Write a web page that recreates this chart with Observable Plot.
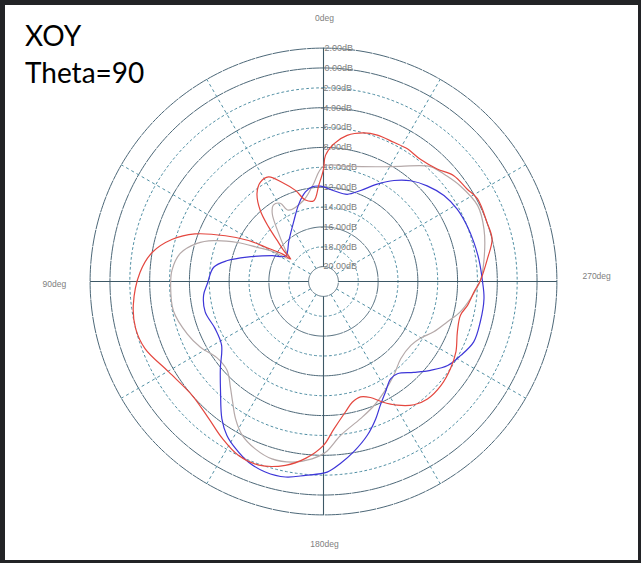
<!DOCTYPE html>
<html><head><meta charset="utf-8">
<script src="https://cdn.jsdelivr.net/npm/d3@7"></script>
<script src="https://cdn.jsdelivr.net/npm/@observablehq/plot@0.6"></script>
<style>
html,body{margin:0;padding:0;background:#222326;width:641px;height:563px;overflow:hidden;}
#panel{position:absolute;left:5px;top:5px;width:633px;height:555px;background:#fff;overflow:hidden;}
#chart{position:absolute;left:0;top:0;}
#title{position:absolute;left:20px;top:12px;font-family:Lato,"Open Sans",sans-serif;font-size:28px;line-height:37px;color:#000;}
</style></head>
<body>
<div id="panel"><div id="chart"></div><div id="title">XOY<br>Theta=90</div></div>
<script>
// ---- data ----
const dbTicks = [2, 0, -2, -4, -6, -8, -10, -12, -14, -16, -18, -20];
const solidRings = [2, 0, -4, -8, -12, -16, -20];
const dottedRings = [-2, -6, -10, -14, -18];
const axisAngles = [0, 90, 180, 270];
const dottedAngles = [30, 60, 120, 150, 210, 240, 300, 330];
const angleLabels = ["0deg", "90deg", "180deg", "270deg"];

const redAngle = [0,2.8,6.8,12.5,17.1,22.6,27.7,32.4,37.1,41.6,45.2,48.5,52,55.5,56.2,59.4,61.3,65,69.7,74.4,80.4,87.2,97.1,104,110.6,120.3,130.9,140.1,147.2,154,160.6,168.3,174.2,180,184,189.6,193.4,197.8,202,206,210.8,216.3,221.5,228.4,235.6,242,249.4,256.2,260.6,266.1,270.4,277.8,284.1,289.8,298.2,302.7,309.1,314.7,321.6,327.7,333.2,339.8,344.8,350.8,355.7,359.1];
const redDb = [-10.2,-11.8,-13.3,-13.1,-11.9,-10.7,-9.6,-9.65,-10.4,-11.9,-13.7,-15.3,-16.4,-17.5,-16.5,-14.7,-12.9,-10.6,-7.7,-5.7,-4.0,-3.0,-2.2,-2.0,-2.3,-3.45,-4.0,-3.5,-2.7,-2.0,-1.9,-2.6,-3.6,-5.0,-6.6,-8.2,-9.0,-9.3,-8.9,-8.0,-7.0,-6.1,-5.7,-5.7,-6.0,-6.4,-7.1,-7.3,-6.8,-6.3,-5.7,-4.85,-4.0,-4.0,-3.9,-4.3,-4.6,-5.4,-5.8,-5.7,-5.8,-5.8,-6.0,-6.6,-7.6,-8.8];

const grayAngle = [0,6.5,13.9,26.2,28.9,33.3,36.9,42.1,50.8,55.9,59.5,62.7,65.6,69.6,73.2,78.9,85.8,92.1,101,111,118.1,125.5,132.7,138.7,142.6,147.3,152.1,157.8,163.8,170.2,176.3,180.7,186.3,195.1,202.1,208.7,216.9,225,233.8,239.6,245.5,251.9,257.5,263.4,270.4,279.1,288.1,296.2,304.9,311,317.1,326.2,333.6,346.8];
const grayDb = [-9.9,-11.8,-13.1,-13.5,-12.5,-12.3,-12.9,-14.6,-16.6,-17.4,-15.5,-14.0,-12.0,-9.7,-8.2,-6.8,-6.2,-6.1,-6.1,-6.8,-7.45,-8.3,-8.3,-7.3,-6.4,-5.1,-4.0,-3.3,-2.9,-3.05,-3.6,-4.3,-5.9,-7.2,-8.0,-8.8,-9.7,-10.5,-10.6,-10.2,-9.3,-8.4,-7.4,-6.6,-5.7,-5.1,-4.5,-4.2,-4.7,-5.2,-5.7,-7.55,-8.6,-9.6];

const blueAngle = [1.8,6.8,11.4,17.6,26,40.2,55.9,63.4,72.3,77.7,82.6,91.1,96.5,104.4,113.5,122,130.2,137,143.5,147.9,152.2,157.5,163,169,174.7,181.1,185.3,190.1,195.9,200.8,204.7,209.3,214.6,218.7,224.8,230.3,235.9,241.7,248.1,255.6,263.9,270.3,278.2,284.5,291.2,298.4,305.5,312.7,319.2,325.1,331.1,337.8,344.8,353.5];
const blueDb = [-11.9,-11.9,-12.3,-13.3,-14.7,-16.1,-16.9,-15.7,-13.4,-11.6,-10.35,-9.8,-9.35,-9.2,-9.6,-9.4,-7.9,-6.3,-4.3,-3.2,-2.5,-1.8,-1.45,-1.45,-1.9,-2.3,-3.1,-4.1,-5.4,-6.7,-7.8,-8.75,-9.6,-9.6,-8.6,-7.5,-6.4,-5.8,-5.2,-5.2,-5.25,-5.5,-5.7,-5.85,-6.0,-6.2,-6.6,-7.3,-8.1,-9.1,-10.3,-11.6,-12.4,-12.3];

// ---- geometry helpers ----
const DBMIN = -20, DBMAX = 2;
const OFFSET = 21.5;                 // inner ring (-20 dB) sits a little off the centre
const rho = db => db + OFFSET;
const rad = a => a * Math.PI / 180;
const px = (a, db) => -rho(db) * Math.sin(rad(a));   // 0deg top, 90deg left
const py = (a, db) => rho(db) * Math.cos(rad(a));
const RMAX = rho(DBMAX);

const W = 633, H = 555, CX = 318, CY = 276, RPX = 233.4;

function ringRows(list) {
  const rows = [];
  for (const db of list) for (let a = 0; a <= 360; a += 1) rows.push({db, a});
  return rows;
}
function seriesRows(angles, dbs) { return angles.map((a, i) => ({a, db: dbs[i]})); }

const red = seriesRows(redAngle, redDb);
const gray = seriesRows(grayAngle, grayDb);
const blue = seriesRows(blueAngle, blueDb);

const curveOpts = (color, w) => ({
  x: d => px(d.a, d.db), y: d => py(d.a, d.db),
  stroke: color, strokeWidth: w, curve: "catmull-rom-closed"
});

const labelRows = angleLabels.map((t, i) => ({t, a: axisAngles[i]}));

const chart = Plot.plot({
  width: W, height: H, margin: 0,
  style: {background: "transparent"},
  x: {domain: [-RMAX, RMAX], range: [CX - RPX, CX + RPX], axis: null},
  y: {domain: [-RMAX, RMAX], range: [CY + RPX, CY - RPX], axis: null},
  marks: [
    // dotted rings
    Plot.line(ringRows(dottedRings), {x: d => px(d.a, d.db), y: d => py(d.a, d.db), z: "db",
      stroke: "#4f8ea3", strokeWidth: 1, strokeDasharray: "2,3"}),
    // solid rings
    Plot.line(ringRows(solidRings), {x: d => px(d.a, d.db), y: d => py(d.a, d.db), z: "db",
      stroke: "#4d6878", strokeWidth: 1, strokeDasharray: "16,1.5"}),
    // dotted spokes
    Plot.link(dottedAngles, {x1: a => px(a, DBMIN), y1: a => py(a, DBMIN), x2: a => px(a, DBMAX), y2: a => py(a, DBMAX),
      stroke: "#4f8ea3", strokeWidth: 1, strokeDasharray: "3,3"}),
    // main axes
    Plot.link(axisAngles, {x1: a => px(a, DBMIN), y1: a => py(a, DBMIN), x2: a => px(a, DBMAX), y2: a => py(a, DBMAX),
      stroke: "#3d5866", strokeWidth: 1.1}),
    // dB labels
    Plot.text(dbTicks.filter(v => v >= 0), {x: () => 0, y: v => rho(v), text: v => v.toFixed(2) + "dB",
      textAnchor: "start", dx: 1, fill: "#808080", fontSize: 9, fontFamily: "Liberation Sans, Arial, sans-serif"}),
    Plot.text(dbTicks.filter(v => v < 0), {x: () => 0, y: v => rho(v), text: v => v.toFixed(2) + "dB",
      textAnchor: "start", dx: -3, fill: "#808080", fontSize: 9, fontFamily: "Liberation Sans, Arial, sans-serif"}),
    // angle labels
    Plot.text(labelRows.filter(d => d.a === 0 || d.a === 180), {x: d => px(d.a, DBMIN) * 0 , y: d => (d.a === 0 ? 1 : -1) * 26.5, text: "t",
      dx: 1, fill: "#808080", fontSize: 8.5, fontFamily: "Liberation Sans, Arial, sans-serif"}),
    Plot.text(labelRows.filter(d => d.a === 90), {x: -27.1, y: 0, text: "t",
      dy: 3, fill: "#808080", fontSize: 8.5, fontFamily: "Liberation Sans, Arial, sans-serif"}),
    Plot.text(labelRows.filter(d => d.a === 270), {x: 27.5, y: 0, text: "t",
      dy: -5, fill: "#808080", fontSize: 8.5, fontFamily: "Liberation Sans, Arial, sans-serif"}),
    // pattern curves
    Plot.line(gray, curveOpts("#b5a9a9", 1.2)),
    Plot.line(blue, curveOpts("#3d36d8", 1.2)),
    Plot.line(red, curveOpts("#e4473f", 1.2))
  ]
});
document.getElementById("chart").appendChild(chart);
</script>
</body></html>
